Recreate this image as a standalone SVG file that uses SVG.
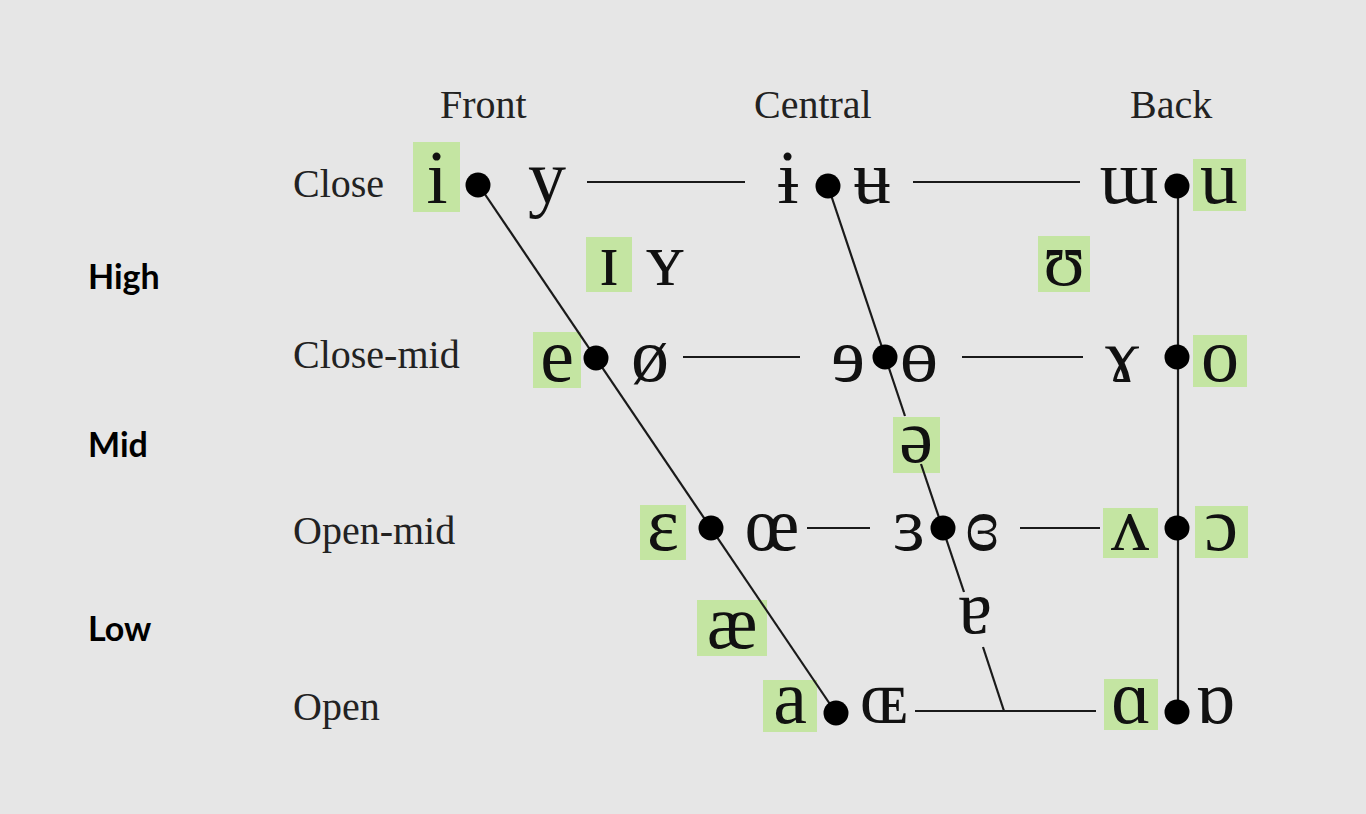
<svg xmlns="http://www.w3.org/2000/svg" width="1366" height="814" viewBox="0 0 1366 814">
<style>
.bg{fill:#e6e6e6}
.hl{fill:#c4e5a2}
.ipa{font-family:"Liberation Serif","DejaVu Serif","Noto Sans",serif;font-size:76px;fill:#111;text-anchor:middle}
.lab{font-family:"Liberation Serif","DejaVu Serif",serif;font-size:40px;fill:#222}
.big{font-family:Lato,"Open Sans","Liberation Sans",sans-serif;font-weight:bold;font-size:34px;fill:#000}
.ln{stroke:#1a1a1a;stroke-width:2.2;fill:none}
.dot{fill:#000}
</style>
<rect class="bg" x="0" y="0" width="1366" height="814"/>

<g id="labels">
<text class="lab" x="440" y="118">Front</text>
<text class="lab" x="754" y="118">Central</text>
<text class="lab" x="1130" y="118">Back</text>
<text class="lab" x="293" y="197">Close</text>
<text class="lab" x="293" y="368">Close-mid</text>
<text class="lab" x="293" y="544">Open-mid</text>
<text class="lab" x="293" y="720">Open</text>
<text class="big" x="88" y="289">High</text>
<text class="big" x="88" y="457">Mid</text>
<text class="big" x="88" y="641">Low</text>
</g>

<g id="close-front"><rect class="hl" x="413" y="142" width="47" height="70"/><text class="ipa" x="437" y="203">i</text><text class="ipa" x="547" y="203">y</text></g>
<g id="close-central"><text class="ipa" x="788" y="203">ɨ</text><text class="ipa" x="872" y="203">ʉ</text></g>
<g id="close-back"><rect class="hl" x="1193" y="159" width="53" height="52"/><text class="ipa" x="1129" y="203">ɯ</text><text class="ipa" x="1219" y="203">u</text></g>
<g id="near-close-front"><rect class="hl" x="586" y="237" width="46" height="55"/><text class="ipa" x="609" y="285">ɪ</text><text class="ipa" x="665" y="285">ʏ</text></g>
<g id="near-close-back"><rect class="hl" x="1038" y="236" width="52" height="56"/><text class="ipa" x="1064" y="285">ʊ</text></g>
<g id="close-mid-front"><rect class="hl" x="533" y="332" width="48" height="56"/><text class="ipa" x="557" y="381">e</text><text class="ipa" x="650" y="381">ø</text></g>
<g id="close-mid-central"><text class="ipa" x="848" y="381">ɘ</text><text class="ipa" x="919" y="381">ɵ</text></g>
<g id="close-mid-back"><rect class="hl" x="1193" y="335" width="54" height="52"/><text class="ipa" x="1122" y="381">ɤ</text><text class="ipa" x="1220" y="381">o</text></g>
<g id="mid-central"><rect class="hl" x="893" y="417" width="47" height="56"/><text class="ipa" x="916" y="462">ə</text></g>
<g id="open-mid-front"><rect class="hl" x="640" y="505" width="46" height="55"/><text class="ipa" x="663" y="550">ɛ</text><text class="ipa" x="772" y="550">œ</text></g>
<g id="open-mid-central"><text class="ipa" x="909" y="550">ɜ</text><text class="ipa" x="982" y="550">ɞ</text></g>
<g id="open-mid-back"><rect class="hl" x="1103" y="508" width="55" height="50"/><rect class="hl" x="1195" y="506" width="53" height="52"/><text class="ipa" x="1130" y="550">ʌ</text><text class="ipa" x="1221" y="550">ɔ</text></g>
<g id="near-open-front"><rect class="hl" x="697" y="600" width="70" height="56"/><text class="ipa" x="732" y="648">æ</text></g>
<g id="near-open-central"><text class="ipa" x="975" y="633">ɐ</text></g>
<g id="open-front"><rect class="hl" x="763" y="680" width="54" height="52"/><text class="ipa" x="790" y="723">a</text><text class="ipa" x="884" y="723">ɶ</text></g>
<g id="open-back"><rect class="hl" x="1104" y="679" width="54" height="51"/><text class="ipa" x="1131" y="723">ɑ</text><text class="ipa" x="1215" y="723">ɒ</text></g>

<g id="connectors">
<line class="ln" x1="478" y1="184" x2="836" y2="713"/>
<line class="ln" x1="828" y1="186" x2="905" y2="416"/>
<line class="ln" x1="921" y1="464" x2="964" y2="592"/>
<line class="ln" x1="983" y1="647" x2="1004" y2="711"/>
<line class="ln" x1="1178" y1="186" x2="1178" y2="712"/>
<line class="ln" x1="587" y1="182" x2="745" y2="182"/>
<line class="ln" x1="913" y1="182" x2="1080" y2="182"/>
<line class="ln" x1="683" y1="357" x2="800" y2="357"/>
<line class="ln" x1="962" y1="357" x2="1083" y2="357"/>
<line class="ln" x1="807" y1="528" x2="870" y2="528"/>
<line class="ln" x1="1020" y1="528" x2="1100" y2="528"/>
<line class="ln" x1="915" y1="711" x2="1096" y2="711"/>
</g>

<g id="points">
<circle class="dot" cx="478" cy="185" r="12.5"/>
<circle class="dot" cx="828" cy="186" r="12.5"/>
<circle class="dot" cx="1177" cy="186" r="12.5"/>
<circle class="dot" cx="596" cy="358" r="12.5"/>
<circle class="dot" cx="885" cy="357" r="12.5"/>
<circle class="dot" cx="1177" cy="357" r="12.5"/>
<circle class="dot" cx="711" cy="528" r="12.5"/>
<circle class="dot" cx="943" cy="528" r="12.5"/>
<circle class="dot" cx="1177" cy="528" r="12.5"/>
<circle class="dot" cx="836" cy="713" r="12.5"/>
<circle class="dot" cx="1177" cy="712" r="12.5"/>
</g>
</svg>
